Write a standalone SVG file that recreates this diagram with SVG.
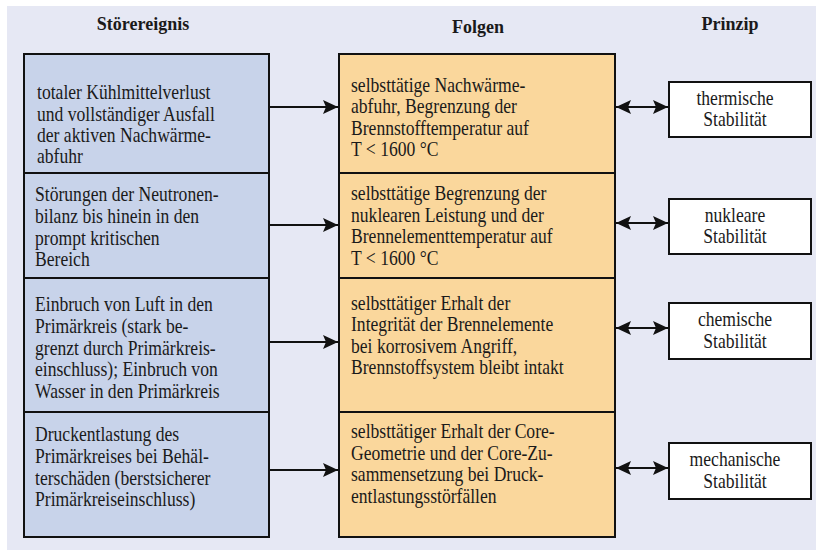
<svg xmlns="http://www.w3.org/2000/svg" width="816" height="550" viewBox="0 0 816 550">
<style>
.bg{fill:#e6e8f4}
.cellL{fill:#c8d3ea;stroke:#111;stroke-width:2}
.cellM{fill:#fad79c;stroke:#111;stroke-width:2}
.cellR{fill:#ffffff;stroke:#111;stroke-width:2}
.t{font-family:"Liberation Serif","Times New Roman",serif;font-size:20px;fill:#1a1a1a}
.h{font-family:"Liberation Serif","Times New Roman",serif;font-size:18px;font-weight:bold;fill:#1a1a1a;text-anchor:middle}
.c{text-anchor:middle}
.conn{stroke:#111;stroke-width:2;fill:none}
</style>
<defs>
<marker id="ah" markerUnits="userSpaceOnUse" markerWidth="16" markerHeight="14" refX="15" refY="7" orient="auto-start-reverse">
<path d="M0,0 L15,7 L0,14 L3,7 Z" fill="#111"/>
</marker>
</defs>
<rect class="bg" x="7" y="6" width="809" height="544"/>

<g id="headers">
<text class="h" x="143" y="30">Störereignis</text>
<text class="h" x="478" y="33">Folgen</text>
<text class="h" x="730" y="30">Prinzip</text>
</g>

<g id="ereignis1">
<rect class="cellL" x="24" y="54" width="245" height="119"/>
<text class="t" transform="translate(37 0) scale(0.88 1)"><tspan x="0" y="99">totaler Kühlmittelverlust</tspan><tspan x="0" y="121">und vollständiger Ausfall</tspan><tspan x="0" y="142">der aktiven Nachwärme-</tspan><tspan x="0" y="163">abfuhr</tspan></text>
</g>
<g id="ereignis2">
<rect class="cellL" x="24" y="173" width="245" height="105"/>
<text class="t" transform="translate(35 0) scale(0.88 1)"><tspan x="0" y="201">Störungen der Neutronen-</tspan><tspan x="0" y="223">bilanz bis hinein in den</tspan><tspan x="0" y="245">prompt kritischen</tspan><tspan x="0" y="266">Bereich</tspan></text>
</g>
<g id="ereignis3">
<rect class="cellL" x="24" y="278" width="245" height="134"/>
<text class="t" transform="translate(35 0) scale(0.88 1)"><tspan x="0" y="311">Einbruch von Luft in den</tspan><tspan x="0" y="333">Primärkreis (stark be-</tspan><tspan x="0" y="355">grenzt durch Primärkreis-</tspan><tspan x="0" y="376.5">einschluss); Einbruch von</tspan><tspan x="0" y="398">Wasser in den Primärkreis</tspan></text>
</g>
<g id="ereignis4">
<rect class="cellL" x="24" y="412" width="245" height="125"/>
<text class="t" transform="translate(35 0) scale(0.88 1)"><tspan x="0" y="441">Druckentlastung des</tspan><tspan x="0" y="463">Primärkreises bei Behäl-</tspan><tspan x="0" y="485">terschäden (berstsicherer</tspan><tspan x="0" y="506">Primärkreiseinschluss)</tspan></text>
</g>

<g id="folge1">
<rect class="cellM" x="339" y="54" width="276" height="119"/>
<text class="t" transform="translate(351 0) scale(0.88 1)"><tspan x="0" y="92">selbsttätige Nachwärme-</tspan><tspan x="0" y="113.5">abfuhr, Begrenzung der</tspan><tspan x="0" y="135">Brennstofftemperatur auf</tspan><tspan x="0" y="156.5">T &lt; 1600 °C</tspan></text>
</g>
<g id="folge2">
<rect class="cellM" x="339" y="173" width="276" height="105"/>
<text class="t" transform="translate(351 0) scale(0.88 1)"><tspan x="0" y="200">selbsttätige Begrenzung der</tspan><tspan x="0" y="222">nuklearen Leistung und der</tspan><tspan x="0" y="243.5">Brennelementtemperatur auf</tspan><tspan x="0" y="265">T &lt; 1600 °C</tspan></text>
</g>
<g id="folge3">
<rect class="cellM" x="339" y="278" width="276" height="134"/>
<text class="t" transform="translate(351 0) scale(0.88 1)"><tspan x="0" y="310">selbsttätiger Erhalt der</tspan><tspan x="0" y="331.5">Integrität der Brennelemente</tspan><tspan x="0" y="353">bei korrosivem Angriff,</tspan><tspan x="0" y="374.5">Brennstoffsystem bleibt intakt</tspan></text>
</g>
<g id="folge4">
<rect class="cellM" x="339" y="412" width="276" height="125"/>
<text class="t" transform="translate(351 0) scale(0.88 1)"><tspan x="0" y="438.5">selbsttätiger Erhalt der Core-</tspan><tspan x="0" y="460">Geometrie und der Core-Zu-</tspan><tspan x="0" y="481.5">sammensetzung bei Druck-</tspan><tspan x="0" y="503">entlastungsstörfällen</tspan></text>
</g>

<g id="prinzip1">
<rect class="cellR" x="669" y="82" width="142" height="55"/>
<text class="t c" transform="translate(735 0) scale(0.88 1)"><tspan x="0" y="105.5">thermische</tspan><tspan x="0" y="126.5">Stabilität</tspan></text>
</g>
<g id="prinzip2">
<rect class="cellR" x="669" y="199" width="142" height="55"/>
<text class="t c" transform="translate(735 0) scale(0.88 1)"><tspan x="0" y="222">nukleare</tspan><tspan x="0" y="243">Stabilität</tspan></text>
</g>
<g id="prinzip3">
<rect class="cellR" x="669" y="303" width="142" height="56"/>
<text class="t c" transform="translate(735 0) scale(0.88 1)"><tspan x="0" y="326.5">chemische</tspan><tspan x="0" y="348">Stabilität</tspan></text>
</g>
<g id="prinzip4">
<rect class="cellR" x="669" y="443" width="142" height="56"/>
<text class="t c" transform="translate(735 0) scale(0.88 1)"><tspan x="0" y="466.5">mechanische</tspan><tspan x="0" y="488">Stabilität</tspan></text>
</g>

<g id="connectors">
<line class="conn" x1="270" y1="107" x2="338" y2="107" marker-end="url(#ah)"/>
<line class="conn" x1="270" y1="225" x2="338" y2="225" marker-end="url(#ah)"/>
<line class="conn" x1="270" y1="342" x2="338" y2="342" marker-end="url(#ah)"/>
<line class="conn" x1="270" y1="470" x2="338" y2="470" marker-end="url(#ah)"/>
<line class="conn" x1="616" y1="107" x2="668" y2="107" marker-start="url(#ah)" marker-end="url(#ah)"/>
<line class="conn" x1="616" y1="223" x2="668" y2="223" marker-start="url(#ah)" marker-end="url(#ah)"/>
<line class="conn" x1="616" y1="328" x2="668" y2="328" marker-start="url(#ah)" marker-end="url(#ah)"/>
<line class="conn" x1="616" y1="468" x2="668" y2="468" marker-start="url(#ah)" marker-end="url(#ah)"/>
</g>
</svg>
